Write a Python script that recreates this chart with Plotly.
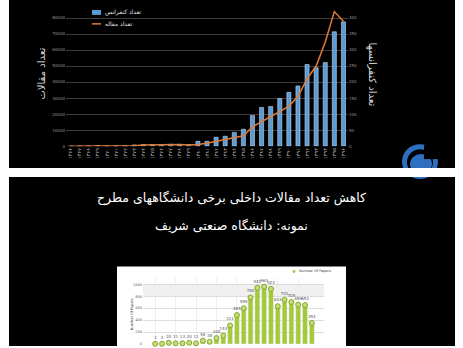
import plotly.graph_objects as go

W, H = 463, 348
def px(x): return x / W
def py(y): return 1 - y / H

# ---------------- data: top chart ----------------
fa_digits = str.maketrans("0123456789", "۰۱۲۳۴۵۶۷۸۹")
years = [str(y).translate(fa_digits) for y in range(1366, 1397)]
conferences = [0, 0, 0, 2, 1, 1, 2, 4, 5, 5, 5, 6, 4, 5,
               15, 15, 28, 31, 43, 53, 96, 121, 124, 149, 168, 188, 255, 245, 261, 357, 388]
articles = [0, 0, 0, 0, 100, 100, 200, 300, 700, 800, 900, 1200, 1000, 800, 1000,
            1800, 3000, 4200, 5500, 6500, 12000, 15500, 18500, 21500, 25000, 31000,
            42000, 50000, 65000, 84000, 78000]
legend_bar = "تعداد کنفرانس"
legend_line = "تعداد مقاله"
left_title = "تعداد مقالات"
right_title = "تعداد کنفرانسها"

# ---------------- data: embedded chart ----------------
paper_years = [str(y) for y in range(1990, 2014)]
papers = [3, 3, 20, 11, 13, 20, 11, 56, 38, 100, 143, 311, 485, 599, 780,
          942, 960, 923, 633, 741, 705, 659, 653, 354]
paper_series = "Number Of Papers"

title1 = "کاهش تعداد مقالات داخلی برخی دانشگاههای مطرح"
title2 = "نمونه: دانشگاه صنعتی شریف"

FONT = "DejaVu Sans"
fig = go.Figure()

fig.add_trace(go.Bar(x=years, y=conferences, name=legend_bar, marker_color="#5b9bd5",
                     width=0.45, xaxis="x", yaxis="y", showlegend=False))
fig.add_trace(go.Scatter(x=years, y=articles, name=legend_line, mode="lines",
                         line=dict(color="#e07b39", width=1.5), xaxis="x", yaxis="y2",
                         showlegend=False))

fig.add_trace(go.Bar(x=paper_years, y=papers, marker_color="#a6c93a", width=0.72,
                     xaxis="x2", yaxis="y3", showlegend=False))
fig.add_trace(go.Scatter(x=paper_years, y=papers, mode="markers+text", text=[str(v) for v in papers],
                         textposition="top center", textfont=dict(size=4, color="#555", family=FONT),
                         marker=dict(size=5, color="#c4dd7a", line=dict(color="#86a82a", width=1)),
                         xaxis="x2", yaxis="y3", showlegend=False, cliponaxis=False))

shapes = [
    dict(type="rect", xref="paper", yref="paper", x0=px(9), x1=px(455), y0=py(169), y1=py(0),
         fillcolor="black", line_width=0, layer="below"),
    dict(type="rect", xref="paper", yref="paper", x0=px(9), x1=px(455), y0=py(348), y1=py(178),
         fillcolor="black", line_width=0, layer="below"),
    dict(type="rect", xref="paper", yref="paper", x0=px(117), x1=px(346), y0=py(348), y1=py(268),
         fillcolor="white", line_width=0, layer="below"),
    dict(type="rect", xref="paper", yref="paper", x0=px(143), x1=px(324), y0=py(298), y1=py(286),
         fillcolor="#f0f0f0", line_width=0, layer="below"),
    # legend swatches (top chart)
    dict(type="rect", xref="paper", yref="paper", x0=px(92), x1=px(101), y0=py(15), y1=py(10),
         fillcolor="#5b9bd5", line_width=0),
    dict(type="line", xref="paper", yref="paper", x0=px(92), x1=px(101), y0=py(24), y1=py(24),
         line=dict(color="#e07b39", width=1.5)),
    # logo
    dict(type="circle", xref="paper", yref="paper", x0=px(402), x1=px(438), y0=py(180), y1=py(145),
         fillcolor="#2f6fc0", line_width=0),
    dict(type="circle", xref="paper", yref="paper", x0=px(407), x1=px(433), y0=py(176), y1=py(150),
         fillcolor="black", line_width=0),
    dict(type="circle", xref="paper", yref="paper", x0=px(410), x1=px(432), y0=py(175), y1=py(155),
         fillcolor="#2f6fc0", line_width=0),
    dict(type="rect", xref="paper", yref="paper", x0=px(424), x1=px(440), y0=py(160), y1=py(146),
         fillcolor="black", line_width=0),
    dict(type="rect", xref="paper", yref="paper", x0=px(400), x1=px(440), y0=py(178), y1=py(169),
         fillcolor="white", line_width=0),
    # legend marker (embedded)
    dict(type="circle", xref="paper", yref="paper", x0=px(292.5), x1=px(295.5), y0=py(274.5), y1=py(271.5),
         fillcolor="#a6c93a", line_width=0),
]

annotations = [
    dict(text=legend_bar, x=px(103), y=py(12.5), xref="paper", yref="paper", xanchor="left",
         yanchor="middle", showarrow=False, font=dict(size=6, color="#e0e0e0", family=FONT)),
    dict(text=legend_line, x=px(103), y=py(23.5), xref="paper", yref="paper", xanchor="left",
         yanchor="middle", showarrow=False, font=dict(size=6, color="#e0e0e0", family=FONT)),
    dict(text=left_title, x=px(42), y=py(74), xref="paper", yref="paper", textangle=-90,
         xanchor="center", yanchor="middle",
         showarrow=False, font=dict(size=10, color="#dddddd", family=FONT)),
    dict(text=right_title, x=px(372), y=py(75), xref="paper", yref="paper", textangle=90,
         xanchor="center", yanchor="middle",
         showarrow=False, font=dict(size=10, color="#dddddd", family=FONT)),
    dict(text=title1, x=px(232), y=py(199), xref="paper", yref="paper", showarrow=False,
         xanchor="center", yanchor="middle",
         font=dict(size=12.5, color="white", family=FONT)),
    dict(text=title2, x=px(231), y=py(227), xref="paper", yref="paper", showarrow=False,
         xanchor="center", yanchor="middle",
         font=dict(size=12.5, color="white", family=FONT)),
    dict(text=paper_series, x=px(297), y=py(273), xref="paper", yref="paper", xanchor="left",
         yanchor="middle", showarrow=False, font=dict(size=3.5, color="#444", family=FONT)),
    dict(text=paper_series, x=px(132), y=py(316), xref="paper", yref="paper", textangle=-90,
         xanchor="center", yanchor="middle",
         showarrow=False, font=dict(size=3.5, color="#444", family=FONT)),
]

fig.update_layout(
    width=W, height=H, margin=dict(l=0, r=0, t=0, b=0),
    paper_bgcolor="white", plot_bgcolor="rgba(0,0,0,0)",
    bargap=0.3, showlegend=False,
    shapes=shapes, annotations=annotations,
    xaxis=dict(domain=[px(66), px(348)], anchor="y", type="category", tickangle=-90,
               tickfont=dict(size=5, color="#bbbbbb", family=FONT), showgrid=False,
               zeroline=False, showline=False, ticks=""),
    yaxis=dict(domain=[py(147), py(2)], range=[0, 450], dtick=50, side="right",
               gridcolor="#3c3c3c", gridwidth=1, zeroline=False, showline=False,
               tickfont=dict(size=4, color="#999999", family=FONT), ticks=""),
    yaxis2=dict(overlaying="y", side="left", range=[0, 90000], dtick=10000, showgrid=False,
                zeroline=False, showline=False, tickformat="d",
                tickfont=dict(size=4, color="#999999", family=FONT), ticks=""),
    xaxis2=dict(domain=[px(143), px(324)], anchor="y3", type="category", showticklabels=False,
                showgrid=True, gridcolor="#eeeeee", zeroline=False, showline=False),
    yaxis3=dict(domain=[py(346), py(280)], range=[0, 1100], tickvals=[0, 200, 400, 600, 800, 1000],
                gridcolor="#dddddd", zeroline=False, showline=False, anchor="x2",
                tickfont=dict(size=3.5, color="#555", family=FONT), ticks=""),
)

fig.write_html("out.html")
